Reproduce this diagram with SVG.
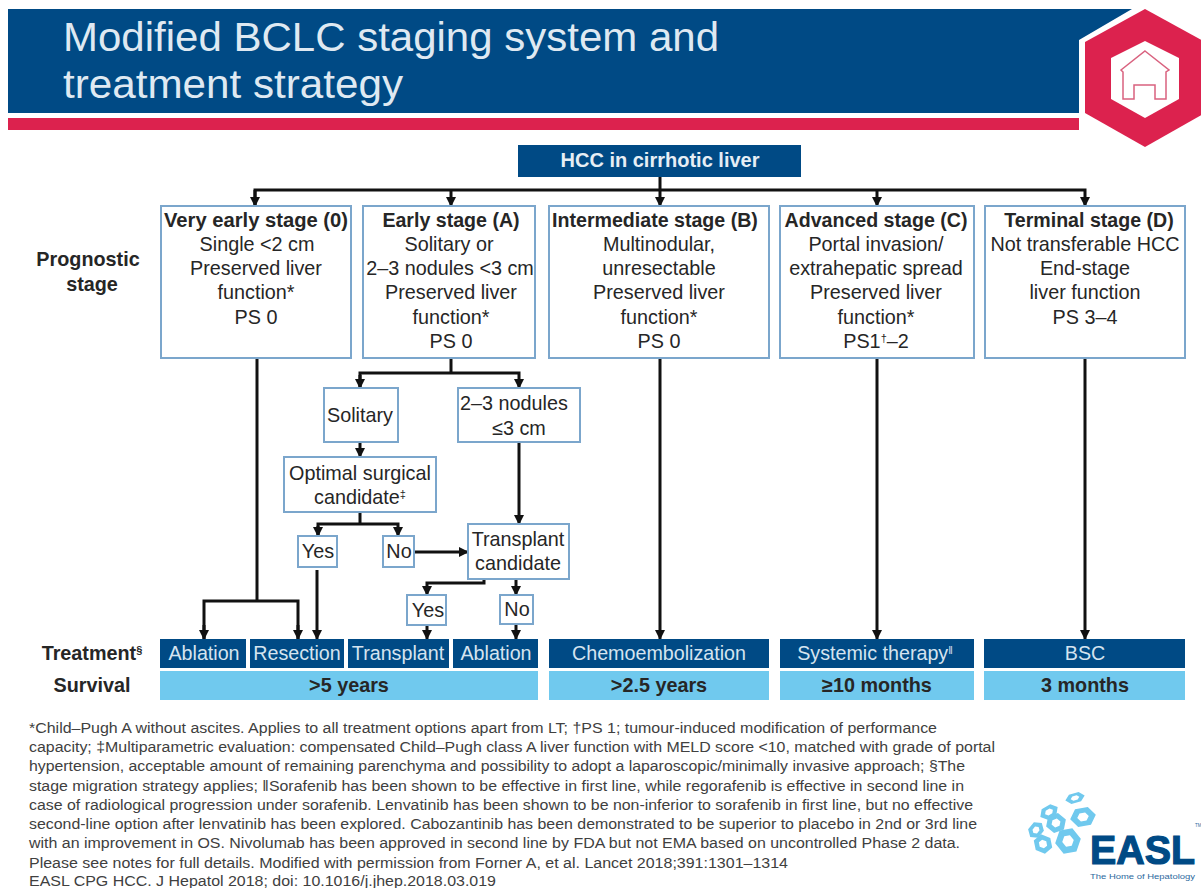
<svg xmlns="http://www.w3.org/2000/svg" xmlns:xlink="http://www.w3.org/1999/xlink" width="1201" height="888" viewBox="0 0 1201 888">
<style>
text{font-family:"Liberation Sans",Arial,sans-serif}
.box{fill:#fff;stroke:#7ba6cc;stroke-width:2}
.t{font-size:19.8px;fill:#262626;text-anchor:middle}
.b{font-weight:700;font-size:19.6px}
.tr{fill:#004a85}
.sv{fill:#70c9ee}
.w{font-size:19.7px;fill:#d5e4f0;text-anchor:middle}
.s{font-size:19.8px;font-weight:700;fill:#262626;text-anchor:middle}
.c{fill:none;stroke:#111;stroke-width:3}
.fn{font-size:14px;fill:#404040}
.sup{font-size:11px}
</style>
<defs>
<marker id="ah" markerUnits="userSpaceOnUse" markerWidth="11" markerHeight="10" refX="9" refY="5" orient="auto"><path d="M0 0L10 5L0 10Z" fill="#111"/></marker>
<path id="hx" fill-rule="evenodd" d="M-10 0L-5 -8.7L5 -8.7L10 0L5 8.7L-5 8.7ZM-4.5 0L-2.2 3.9L2.2 3.9L4.5 0L2.2 -3.9L-2.2 -3.9Z" fill="#70c9ee"/>
</defs>
<g id="header">
<path d="M8 9H1132L1079 40V113H8Z" fill="#004a85"/>
<rect x="8" y="118" width="1071" height="12" fill="#dc224e"/>
<text x="63" y="51" font-size="40" fill="#dfe9f2" textLength="656" lengthAdjust="spacingAndGlyphs">Modified BCLC staging system and</text>
<text x="63" y="98" font-size="40" fill="#dfe9f2" textLength="340" lengthAdjust="spacingAndGlyphs">treatment strategy</text>
</g>
<g id="home-icon">
<path d="M1145 9L1205 42V113L1145 147L1085 113V42Z" fill="#dc224e"/>
<path d="M1145 41L1179 58V99L1145 118L1111 99V58Z" fill="#fff"/>
<path d="M1145 51L1169 70L1166 72V99H1155V85H1134V99H1123V72L1121 70Z" fill="#fff" stroke="#d9627f" stroke-width="1.5"/>
</g>
<g id="connectors">
<path class="c" d="M660 177V190"/>
<path class="c" d="M255 206V190H1085V206" marker-end="url(#ah)"/>
<path class="c" d="M255 190V206" marker-end="url(#ah)"/>
<path class="c" d="M451 190V206" marker-end="url(#ah)"/>
<path class="c" d="M660 190V206" marker-end="url(#ah)"/>
<path class="c" d="M877 190V206" marker-end="url(#ah)"/>
<path class="c" d="M257 358V600"/>
<path class="c" d="M204 639V601H298V639"/>
<path class="c" d="M204 625V639" marker-end="url(#ah)"/>
<path class="c" d="M298 625V639" marker-end="url(#ah)"/>
<path class="c" d="M451 358V373"/>
<path class="c" d="M360 388V373H519V388" marker-end="url(#ah)"/>
<path class="c" d="M360 375V388" marker-end="url(#ah)"/>
<path class="c" d="M360 442V457" marker-end="url(#ah)"/>
<path class="c" d="M360 512V524"/>
<path class="c" d="M318 536V524H398V536" marker-end="url(#ah)"/>
<path class="c" d="M318 526V536" marker-end="url(#ah)"/>
<path class="c" d="M317 570V639" marker-end="url(#ah)"/>
<path class="c" d="M414 552H468" marker-end="url(#ah)"/>
<path class="c" d="M519 442V524" marker-end="url(#ah)"/>
<path class="c" d="M484 579V583H427V595" marker-end="url(#ah)"/>
<path class="c" d="M516 579V595" marker-end="url(#ah)"/>
<path class="c" d="M427 625V639" marker-end="url(#ah)"/>
<path class="c" d="M516 624V639" marker-end="url(#ah)"/>
<path class="c" d="M660 358V639" marker-end="url(#ah)"/>
<path class="c" d="M877 358V639" marker-end="url(#ah)"/>
<path class="c" d="M1085 358V639" marker-end="url(#ah)"/>
</g>
<g id="hcc"><rect x="518" y="145" width="283" height="32" fill="#004a85"/><text x="660" y="167" font-size="20" font-weight="700" fill="#e6eef5" text-anchor="middle">HCC in cirrhotic liver</text></g>
<g id="label-prognostic"><text class="s" x="88" y="266">Prognostic</text><text class="s" x="92" y="291">stage</text></g>
<g id="stage-0"><rect class="box" x="161" y="206" width="190" height="152"/>
<text class="t b" x="256" y="227" textLength="184" lengthAdjust="spacingAndGlyphs">Very early stage (0)</text><text class="t" x="257" y="251">Single  &lt;2 cm</text><text class="t" x="256" y="275">Preserved liver</text><text class="t" x="256" y="299">function*</text><text class="t" x="256" y="324">PS 0</text></g>
<g id="stage-a"><rect class="box" x="363" y="206" width="172" height="152"/>
<text class="t b" x="451" y="227">Early stage (A)</text><text class="t" x="449" y="251">Solitary or</text><text class="t" x="450" y="275">2–3 nodules &lt;3 cm</text><text class="t" x="451" y="299">Preserved liver</text><text class="t" x="451" y="324">function*</text><text class="t" x="451" y="348">PS 0</text></g>
<g id="stage-b"><rect class="box" x="549" y="206" width="220" height="152"/>
<text class="t b" x="655" y="227">Intermediate stage (B)</text><text class="t" x="659" y="251">Multinodular,</text><text class="t" x="659" y="275">unresectable</text><text class="t" x="659" y="299">Preserved liver</text><text class="t" x="659" y="324">function*</text><text class="t" x="659" y="348">PS 0</text></g>
<g id="stage-c"><rect class="box" x="780" y="206" width="194" height="152"/>
<text class="t b" x="876" y="227">Advanced stage (C)</text><text class="t" x="876" y="251">Portal invasion/</text><text class="t" x="876" y="275">extrahepatic spread</text><text class="t" x="876" y="299">Preserved liver</text><text class="t" x="876" y="324">function*</text><text class="t" x="876" y="348">PS1<tspan class="sup" dy="-6">†</tspan><tspan dy="6">–2</tspan></text></g>
<g id="stage-d"><rect class="box" x="985" y="206" width="200" height="152"/>
<text class="t b" x="1089" y="227">Terminal stage (D)</text><text class="t" x="1085" y="251">Not transferable HCC</text><text class="t" x="1085" y="275">End-stage</text><text class="t" x="1085" y="299">liver function</text><text class="t" x="1085" y="324">PS 3–4</text></g>
<g id="solitary"><rect class="box" x="324" y="388" width="74" height="54"/><text class="t" x="360" y="422">Solitary</text></g>
<g id="nodules"><rect class="box" x="458" y="388" width="122" height="54"/><text class="t" x="514" y="410">2–3 nodules</text><text class="t" x="519" y="435">≤3 cm</text></g>
<g id="optimal"><rect class="box" x="284" y="457" width="152" height="55"/><text class="t" x="360" y="480">Optimal surgical</text><text class="t" x="360" y="504">candidate<tspan class="sup" dy="-6">‡</tspan></text></g>
<g id="yes1"><rect class="box" x="298" y="536" width="39" height="31"/><text class="t" x="318" y="558">Yes</text></g>
<g id="no1"><rect class="box" x="383" y="536" width="31" height="31"/><text class="t" x="399" y="558">No</text></g>
<g id="transplant-candidate"><rect class="box" x="468" y="524" width="101" height="55"/><text class="t" x="518" y="546">Transplant</text><text class="t" x="518" y="570">candidate</text></g>
<g id="yes2"><rect class="box" x="407" y="595" width="39" height="30"/><text class="t" x="428" y="617">Yes</text></g>
<g id="no2"><rect class="box" x="500" y="595" width="33" height="29"/><text class="t" x="517" y="616">No</text></g>
<g id="label-treatment"><text class="s" x="92" y="660">Treatment<tspan class="sup" dy="-6">§</tspan></text></g>
<g id="label-survival"><text class="s" x="92" y="692">Survival</text></g>
<g id="treat-ablation1"><rect class="tr" x="160" y="639" width="86" height="29"/><text class="w" x="204" y="660">Ablation</text></g>
<g id="treat-resection"><rect class="tr" x="250" y="639" width="94" height="29"/><text class="w" x="297" y="660">Resection</text></g>
<g id="treat-transplant"><rect class="tr" x="348" y="639" width="101" height="29"/><text class="w" x="398" y="660">Transplant</text></g>
<g id="treat-ablation2"><rect class="tr" x="453" y="639" width="85" height="29"/><text class="w" x="496" y="660">Ablation</text></g>
<g id="treat-chemo"><rect class="tr" x="549" y="639" width="220" height="29"/><text class="w" x="659" y="660">Chemoembolization</text></g>
<g id="treat-systemic"><rect class="tr" x="780" y="639" width="194" height="29"/><text class="w" x="875" y="660">Systemic therapy<tspan class="sup" dy="-6">ǁ</tspan></text></g>
<g id="treat-bsc"><rect class="tr" x="984" y="639" width="201" height="29"/><text class="w" x="1085" y="660">BSC</text></g>
<g id="surv-a"><rect class="sv" x="160" y="671" width="378" height="29"/><text class="s" x="349" y="692">&gt;5 years</text></g>
<g id="surv-b"><rect class="sv" x="549" y="671" width="220" height="29"/><text class="s" x="659" y="692">&gt;2.5 years</text></g>
<g id="surv-c"><rect class="sv" x="780" y="671" width="194" height="29"/><text class="s" x="877" y="692">≥10 months</text></g>
<g id="surv-d"><rect class="sv" x="984" y="671" width="201" height="29"/><text class="s" x="1085" y="692">3 months</text></g>
<g id="footnote">
<text class="fn" x="29" y="733" textLength="908" lengthAdjust="spacingAndGlyphs">*Child–Pugh A without ascites. Applies to all treatment options apart from LT; †PS 1; tumour-induced modification of performance</text>
<text class="fn" x="29" y="752" textLength="966" lengthAdjust="spacingAndGlyphs">capacity; ‡Multiparametric evaluation: compensated Child–Pugh class A liver function with MELD score &lt;10, matched with grade of portal</text>
<text class="fn" x="29" y="771" textLength="936" lengthAdjust="spacingAndGlyphs">hypertension, acceptable amount of remaining parenchyma and possibility to adopt a laparoscopic/minimally invasive approach; §The</text>
<text class="fn" x="29" y="791" textLength="935" lengthAdjust="spacingAndGlyphs">stage migration strategy applies; ǁSorafenib has been shown to be effective in first line, while regorafenib is effective in second line in</text>
<text class="fn" x="29" y="810" textLength="944" lengthAdjust="spacingAndGlyphs">case of radiological progression under sorafenib. Lenvatinib has been shown to be non-inferior to sorafenib in first line, but no effective</text>
<text class="fn" x="29" y="829" textLength="948" lengthAdjust="spacingAndGlyphs">second-line option after lenvatinib has been explored. Cabozantinib has been demonstrated to be superior to placebo in 2nd or 3rd line</text>
<text class="fn" x="29" y="848" textLength="931" lengthAdjust="spacingAndGlyphs">with an improvement in OS. Nivolumab has been approved in second line by FDA but not EMA based on uncontrolled Phase 2 data.</text>
<text class="fn" x="29" y="868" textLength="759" lengthAdjust="spacingAndGlyphs">Please see notes for full details. Modified with permission from Forner A, et al. Lancet 2018;391:1301–1314</text>
<text class="fn" x="29" y="886" textLength="467" lengthAdjust="spacingAndGlyphs">EASL CPG HCC. J Hepatol 2018; doi: 10.1016/j.jhep.2018.03.019</text>
</g>
<g id="easl-logo">
<use xlink:href="#hx" href="#hx" transform="translate(1075 798) rotate(-15) scale(1 .55)"/>
<use xlink:href="#hx" href="#hx" transform="translate(1049 812) rotate(-30) scale(1 .7)"/>
<use xlink:href="#hx" href="#hx" transform="translate(1083 817) rotate(-10) scale(1.3 1.05)"/>
<use xlink:href="#hx" href="#hx" transform="translate(1056 823) rotate(-20) scale(1.05 1)"/>
<use xlink:href="#hx" href="#hx" transform="translate(1036 830) rotate(-50) scale(.9 .75)"/>
<use xlink:href="#hx" href="#hx" transform="translate(1068 841) rotate(-10) scale(1.3 1.35)"/>
<use xlink:href="#hx" href="#hx" transform="translate(1043 844) rotate(-40) scale(.95 1)"/>
<text x="1090" y="864" font-size="40" font-weight="700" fill="#004a85" stroke="#004a85" stroke-width="1.2" textLength="105" lengthAdjust="spacingAndGlyphs">EASL</text>
<text x="1090" y="879" font-size="7.5" fill="#2e6a9e" textLength="105" lengthAdjust="spacingAndGlyphs">The Home of Hepatology</text>
<text x="1195" y="827" font-size="4.5" fill="#2e6a9e">TM</text>
</g>
</svg>
